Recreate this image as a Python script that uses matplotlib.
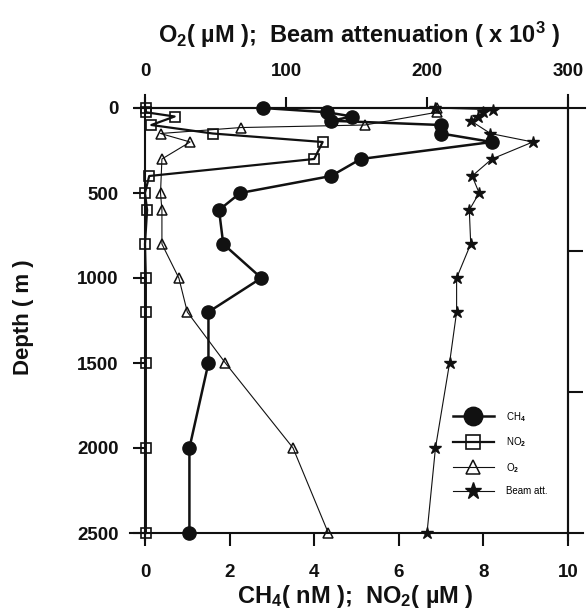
import matplotlib
matplotlib.use("Agg")
import matplotlib.pyplot as plt

plt.rcParams['font.family'] = ['Liberation Sans', 'DejaVu Sans']
plt.rcParams['font.weight'] = 'bold'
plt.rcParams['mathtext.fontset'] = 'custom'
plt.rcParams['mathtext.rm'] = 'Liberation Sans:bold'
plt.rcParams['mathtext.it'] = 'Liberation Sans:bold'
plt.rcParams['mathtext.bf'] = 'Liberation Sans:bold'
plt.rcParams['mathtext.default'] = 'rm'

# CH4 (nM), bottom scale
ch4_depth = [0, 25, 50, 75, 100, 150, 200, 300, 400, 500, 600, 800, 1000, 1200, 1500, 2000, 2500]
ch4 = [2.8, 4.3, 4.9, 4.4, 7.0, 7.0, 8.2, 5.1, 4.4, 2.25, 1.75, 1.85, 2.75, 1.5, 1.5, 1.05, 1.05]

# NO2 (uM), bottom scale
no2_depth = [0, 25, 50, 100, 150, 200, 300, 400, 500, 600, 800, 1000, 1200, 1500, 2000, 2500]
no2 = [0.02, 0.02, 0.7, 0.15, 1.6, 4.2, 4.0, 0.1, 0.0, 0.05, 0.0, 0.02, 0.02, 0.02, 0.02, 0.02]

# O2 (uM), top scale
o2_depth = [0, 25, 100, 115, 150, 200, 300, 500, 600, 800, 1000, 1200, 1500, 2000, 2500]
o2 = [207, 207, 156, 68, 11, 32, 12, 11, 12, 12, 24, 30, 57, 105, 130]

# beam attenuation (x 10^3), top scale
beam_depth = [0, 10, 25, 50, 75, 150, 200, 300, 400, 500, 600, 800, 1000, 1200, 1500, 2000, 2500]
beam = [206, 247, 240, 236, 231, 245, 275, 246, 232, 237, 230, 231, 221, 221, 216, 206, 200]

depth_ticks = [0, 500, 1000, 1500, 2000, 2500]
bottom_ticks = [0, 2, 4, 6, 8, 10]
top_ticks = [0, 100, 200, 300]
right_ticks = [840, 1670]

ink = '#111111'

fig = plt.figure(figsize=(5.87, 6.16), dpi=100)
ax = fig.add_axes([145/587, 1 - 533/616, 423/587, 425/616])
ax.set_xlim(0, 10)
ax.set_ylim(2500, 0)

l1, = ax.plot(ch4, ch4_depth, '-o', color=ink, lw=1.8, ms=9.5, label='CH$_4$',
              zorder=5, clip_on=False)
l2, = ax.plot(no2, no2_depth, '-s', color=ink, lw=1.6, ms=7, mfc='none', mew=1.2,
              label='NO$_2$', zorder=4, clip_on=False)

ax2 = ax.twiny()
ax2.set_xlim(0, 300)
l3, = ax2.plot(o2, o2_depth, '-^', color=ink, lw=0.8, ms=7, mfc='none', mew=1.1,
               label='O$_2$', zorder=3, clip_on=False)
l4, = ax2.plot(beam, beam_depth, '-*', color=ink, lw=0.8, ms=9, label='Beam att.',
               zorder=3, clip_on=False)

for a in (ax, ax2):
    for s in a.spines.values():
        s.set_linewidth(1.5)
        s.set_color(ink)
ax2.spines['right'].set_visible(False)
ax2.spines['left'].set_visible(False)
ax2.spines['bottom'].set_visible(False)

ax.set_xticks(bottom_ticks)
ax.set_yticks(depth_ticks)
ax.tick_params(axis='x', direction='out', length=9, width=1.5, pad=13, labelsize=13.5, colors=ink)
ax.tick_params(axis='y', direction='out', length=9, width=1.5, pad=10, labelsize=13.5, colors=ink)
ax2.set_xticks(top_ticks)
ax2.tick_params(axis='x', direction='out', length=8, width=1.5, pad=12, labelsize=13.5, colors=ink)

sec = ax.secondary_yaxis('right')
sec.set_yticks(right_ticks)
sec.set_yticklabels(['', ''])
sec.tick_params(direction='out', length=11, width=1.5, colors=ink)
sec.spines['right'].set_linewidth(1.5)

# scanned-style axis lines running past the corners
kw = dict(transform=ax.transAxes, clip_on=False, color=ink, lw=1.5)
ax.plot([0, 0], [1.0, 1.03], **kw)
ax.plot([0, 0], [0.0, -0.016], **kw)
ax.plot([-0.035, 0], [0, 0], **kw)
ax.plot([1, 1.035], [0, 0], **kw)
ax.plot([-0.024, 0], [1, 1], **kw)
ax.plot([1, 1.04], [1, 1], **kw)
ax.plot([1, 1], [1.0, 1.03], **kw)
ax.plot([1, 1], [0.0, -0.016], **kw)

fig.text(359/587, 1 - 35/616, 'O$_2$( µM );  Beam attenuation ( x 10$^3$ )',
         ha='center', va='center', fontsize=17, color=ink)
fig.text(355/587, 1 - 597/616, 'CH$_4$( nM );  NO$_2$( µM )',
         ha='center', va='center', fontsize=17, color=ink)
fig.text(23/587, 1 - 317/616, 'Depth ( m )', rotation=90,
         ha='center', va='center', fontsize=16, color=ink)

leg = ax2.legend(handles=[l1, l2, l3, l4], loc='upper left',
                 bbox_to_anchor=(448/587, 1 - 405/616), bbox_transform=fig.transFigure,
                 frameon=False, fontsize=7, markerscale=1.4, handlelength=4.2,
                 labelspacing=1.2, handletextpad=1.3, borderpad=0)
for t in leg.get_texts():
    t.set_fontweight('normal')

fig.savefig('out.png', dpi=100)
